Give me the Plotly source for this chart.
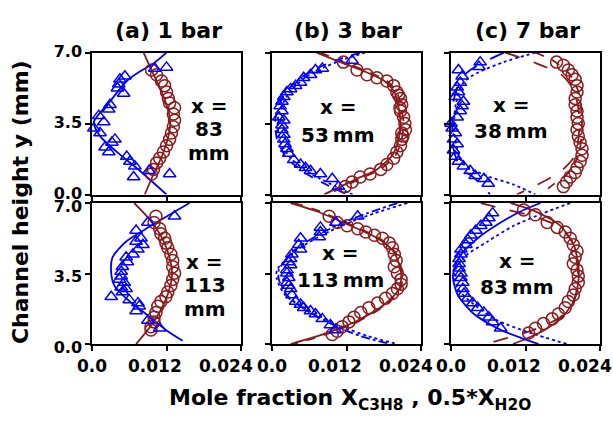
import plotly.graph_objects as go

# ---------------------------------------------------------------------------
# Measured profiles: C3H8 mole fraction (triangles) and 0.5*H2O (circles)
# versus channel height y (mm), plus model profiles, for each panel.
# Panel keys: a/b/c = 1/3/7 bar, 1 = upstream station, 2 = downstream station
# ---------------------------------------------------------------------------

# (a) 1 bar, x = 83 mm
A1_TRI_Y = [6.27, 6.22, 5.83, 5.68, 5.44, 5.24, 4.98, 4.43, 4.20, 3.89, 3.58, 3.27, 3.03, 2.72,
            2.57, 2.33, 2.10, 1.87, 1.63, 1.40, 0.86, 1.17, 1.01]
A1_TRI_X = [0.0120, 0.0101, 0.0053, 0.0045, 0.0043, 0.0041, 0.0051, 0.0029, 0.0027, 0.0011, 0.0019,
            0.0003, 0.0013, 0.0037, 0.0032, 0.0021, 0.0027, 0.0056, 0.0061, 0.0069, 0.0067, 0.0092, 0.0125]
A1_CIR_Y = [6.14, 5.91, 5.60, 5.37, 5.06, 4.74, 4.51, 4.28, 3.97, 3.66, 3.34, 3.03, 2.72, 2.41,
            2.10, 1.79, 1.56, 1.24, 1.01]
A1_CIR_X = [0.0096, 0.0104, 0.0112, 0.0117, 0.0120, 0.0123, 0.0125, 0.0133, 0.0131, 0.0133, 0.0131,
            0.0128, 0.0125, 0.0120, 0.0115, 0.0109, 0.0104, 0.0099, 0.0096]
A1_RED_Y = [7.0, 6.0, 5.0, 4.0, 3.5, 3.0, 2.0, 1.0, 0.0]
A1_RED_X = [0.0083, 0.0098, 0.0113, 0.0124, 0.0126, 0.0124, 0.0114, 0.0099, 0.0085]
A1_BLU_Y = [7.0, 6.46, 6.07, 5.60, 4.59, 3.58, 2.88, 2.10, 1.17, 0.0]
A1_BLU_X = [0.0120, 0.0099, 0.0077, 0.0056, 0.0029, 0.0003, 0.0013, 0.0040, 0.0077, 0.0120]

# (a) 1 bar, x = 113 mm
A2_TRI_Y = [6.34, 6.03, 5.64, 5.25, 5.09, 4.93, 4.70, 4.46, 4.31, 4.07, 3.84, 3.60, 3.37, 3.21,
            3.05, 2.82, 2.74, 2.58, 2.35, 2.19, 2.04, 1.88, 1.64, 1.17, 0.78]
A2_TRI_X = [0.0133, 0.0090, 0.0071, 0.0079, 0.0071, 0.0082, 0.0074, 0.0066, 0.0055, 0.0057, 0.0049,
            0.0047, 0.0047, 0.0044, 0.0052, 0.0047, 0.0055, 0.0049, 0.0031, 0.0060, 0.0074, 0.0076,
            0.0071, 0.0090, 0.0109]
A2_CIR_Y = [6.34, 6.03, 5.72, 5.48, 5.25, 5.01, 4.78, 4.46, 4.15, 3.84, 3.52, 3.21, 2.90, 2.58,
            2.35, 2.11, 1.88, 1.57, 1.33, 1.10, 0.86, 0.70]
A2_CIR_X = [0.0103, 0.0100, 0.0109, 0.0111, 0.0117, 0.0119, 0.0122, 0.0127, 0.0130, 0.0130, 0.0133,
            0.0130, 0.0127, 0.0122, 0.0119, 0.0111, 0.0106, 0.0103, 0.0100, 0.0100, 0.0095, 0.0095]
A2_RED_Y = [7.0, 6.0, 5.0, 4.0, 3.5, 3.0, 2.0, 1.0, 0.0]
A2_RED_X = [0.0068, 0.0098, 0.0117, 0.0127, 0.0129, 0.0127, 0.0116, 0.0097, 0.0071]
A2_BLU_Y = [7.0, 5.72, 5.09, 4.30, 3.50, 2.90, 2.27, 1.49, 0.70, 0.16]
A2_BLU_X = [0.0157, 0.0087, 0.0055, 0.0033, 0.0031, 0.0036, 0.0055, 0.0087, 0.0119, 0.0146]

# (b) 3 bar, x = 53 mm
B1_TRI_Y = [6.61, 6.22, 6.14, 5.91, 5.76, 5.52, 5.37, 5.21, 5.06, 4.82, 4.59, 4.36, 4.12, 3.81,
            3.66, 3.42, 3.19, 2.96, 2.72, 2.49, 2.26, 2.02, 1.71, 1.48, 1.32, 1.17, 1.01, 0.78, 0.39]
B1_TRI_X = [0.0129, 0.0081, 0.0070, 0.0062, 0.0051, 0.0046, 0.0038, 0.0030, 0.0024, 0.0019, 0.0016,
            0.0013, 0.0016, 0.0011, 0.0019, 0.0016, 0.0016, 0.0019, 0.0019, 0.0021, 0.0024, 0.0027,
            0.0035, 0.0046, 0.0054, 0.0062, 0.0078, 0.0097, 0.0107]
B1_CIR_Y = [6.53, 6.14, 5.91, 5.76, 5.60, 5.37, 5.06, 4.90, 4.74, 4.43, 4.28, 4.12, 3.81, 3.50,
            3.19, 3.03, 2.88, 2.72, 2.41, 2.10, 1.79, 1.48, 1.24, 1.01, 0.86, 0.62, 0.39]
B1_CIR_X = [0.0115, 0.0137, 0.0153, 0.0169, 0.0185, 0.0196, 0.0201, 0.0204, 0.0207, 0.0209, 0.0206,
            0.0207, 0.0212, 0.0214, 0.0215, 0.0209, 0.0211, 0.0209, 0.0207, 0.0201, 0.0196, 0.0185,
            0.0175, 0.0158, 0.0142, 0.0129, 0.0118]
B1_RED_Y = [7.0, 6.53, 6.07, 5.60, 5.06, 4.12, 3.50, 2.72, 1.94, 1.24, 0.78, 0.23, 0.0]
B1_REDDASH_X = [0.0078, 0.0115, 0.0153, 0.0185, 0.0201, 0.0209, 0.0212, 0.0209, 0.0199, 0.0174,
                0.0142, 0.0105, 0.0089]
B1_REDSOLID_X = [0.0072, 0.0110, 0.0149, 0.0181, 0.0197, 0.0205, 0.0207, 0.0204, 0.0194, 0.0169,
                 0.0137, 0.0099, 0.0084]
B1_BLU_Y = [7.0, 6.69, 6.30, 5.76, 4.90, 3.97, 3.50, 2.72, 1.79, 1.01, 0.39, 0.0]
B1_BLUDASH_X = [0.0142, 0.0110, 0.0078, 0.0046, 0.0019, 0.0007, 0.0005, 0.0008, 0.0024, 0.0056,
                0.0094, 0.0121]
B1_BLUDOT_X = [0.0150, 0.0118, 0.0086, 0.0053, 0.0025, 0.0011, 0.0009, 0.0012, 0.0030, 0.0064,
               0.0103, 0.0130]

# (b) 3 bar, x = 113 mm
B2_TRI_Y = [6.34, 6.03, 5.79, 5.56, 5.32, 5.25, 4.93, 4.70, 4.46, 4.23, 4.07, 3.92, 3.68, 3.52,
            3.29, 3.05, 2.90, 2.74, 2.43, 2.11, 1.96, 1.80, 1.64, 1.49, 1.25, 0.94, 0.70]
B2_TRI_X = [0.0138, 0.0103, 0.0078, 0.0078, 0.0076, 0.0046, 0.0043, 0.0046, 0.0032, 0.0030, 0.0027,
            0.0030, 0.0024, 0.0024, 0.0027, 0.0024, 0.0027, 0.0030, 0.0032, 0.0038, 0.0046, 0.0051,
            0.0062, 0.0070, 0.0081, 0.0094, 0.0102]
B2_CIR_Y = [6.34, 6.03, 5.87, 5.72, 5.56, 5.40, 5.25, 5.01, 4.78, 4.46, 4.15, 3.84, 3.52, 3.21,
            2.97, 2.74, 2.51, 2.27, 2.04, 1.80, 1.57, 1.33, 1.10, 0.86, 0.63, 0.47]
B2_CIR_X = [0.0092, 0.0105, 0.0121, 0.0138, 0.0151, 0.0165, 0.0178, 0.0189, 0.0194, 0.0197, 0.0200,
            0.0197, 0.0202, 0.0208, 0.0208, 0.0202, 0.0194, 0.0183, 0.0170, 0.0156, 0.0143, 0.0132,
            0.0124, 0.0113, 0.0105, 0.0097]
B2_RED_Y = [7.0, 6.58, 5.95, 5.25, 4.54, 3.52, 2.74, 1.96, 1.17, 0.55, 0.0]
B2_REDSOLID_X = [0.0030, 0.0073, 0.0121, 0.0170, 0.0197, 0.0208, 0.0205, 0.0181, 0.0138, 0.0089, 0.0030]
B2_REDDASH_X = [0.0036, 0.0078, 0.0125, 0.0173, 0.0199, 0.0210, 0.0207, 0.0184, 0.0142, 0.0094, 0.0036]
B2_BLU_Y = [7.0, 6.50, 6.11, 5.40, 4.62, 3.68, 3.21, 2.43, 1.64, 0.86, 0.39, 0.0]
B2_BLUDASHDOT_X = [0.0202, 0.0154, 0.0121, 0.0073, 0.0035, 0.0011, 0.0011, 0.0024, 0.0057, 0.0105,
                   0.0143, 0.0191]
B2_BLUDOT_X = [0.0218, 0.0166, 0.0131, 0.0080, 0.0038, 0.0008, 0.0008, 0.0021, 0.0060, 0.0113,
               0.0155, 0.0202]

# (c) 7 bar, x = 38 mm
C1_TRI_Y = [6.53, 6.30, 6.14, 5.83, 5.52, 5.29, 5.06, 4.82, 4.59, 4.36, 4.12, 3.81, 3.50, 3.27,
            3.03, 2.72, 2.49, 2.18, 1.87, 1.63, 1.40, 1.17, 0.93, 0.78, 0.54]
C1_TRI_X = [0.0047, 0.0045, 0.0012, 0.0018, 0.0015, 0.0010, 0.0012, 0.0007, 0.0020, 0.0018, 0.0015,
            0.0010, 0.0000, 0.0002, 0.0007, 0.0004, 0.0010, 0.0004, 0.0007, 0.0012, 0.0020, 0.0031,
            0.0039, 0.0053, 0.0060]
C1_CIR_Y = [6.53, 6.38, 6.14, 5.91, 5.68, 5.37, 5.06, 4.74, 4.43, 4.12, 3.81, 3.50, 3.19, 2.88,
            2.57, 2.26, 1.94, 1.63, 1.32, 1.09, 0.86, 0.62, 0.39]
C1_CIR_X = [0.0170, 0.0181, 0.0189, 0.0195, 0.0200, 0.0203, 0.0203, 0.0200, 0.0200, 0.0203, 0.0203,
            0.0205, 0.0203, 0.0205, 0.0208, 0.0211, 0.0211, 0.0208, 0.0203, 0.0200, 0.0192, 0.0186,
            0.0181]
C1_REDLONG_Y = [7.0, 6.5, 5.9, 5.2, 4.3, 3.5, 2.7, 1.8, 1.1, 0.5, 0.0]
C1_REDLONG_X = [0.0087, 0.0135, 0.0178, 0.0197, 0.0205, 0.0207, 0.0205, 0.0197, 0.0175, 0.0140, 0.0106]
C1_REDDASH_Y = [7.0, 6.6, 5.9, 5.0, 3.5, 2.0, 1.1, 0.5, 0.0]
C1_REDDASH_X = [0.0136, 0.0165, 0.0192, 0.0206, 0.0211, 0.0206, 0.0190, 0.0165, 0.0144]
C1_BLUDASH_Y = [7.0, 6.61, 6.14, 5.68, 4.59, 3.50, 2.26, 1.32, 0.86, 0.0]
C1_BLUDASH_X = [0.0085, 0.0058, 0.0031, 0.0015, 0.0004, 0.0002, 0.0004, 0.0015, 0.0036, 0.0063]
C1_BLUDOT_Y = [7.0, 6.53, 5.99, 5.52, 4.5, 3.5, 2.5, 1.5, 0.86, 0.5, 0.0]
C1_BLUDOT_X = [0.0136, 0.0085, 0.0042, 0.0020, 0.0008, 0.0005, 0.0008, 0.0020, 0.0063, 0.0100, 0.0136]

# (c) 7 bar, x = 83 mm
C2_TRI_Y = [6.50, 6.26, 6.03, 5.87, 5.64, 5.40, 5.17, 4.93, 4.70, 4.46, 4.23, 3.99, 3.76, 3.52,
            3.29, 3.05, 2.74, 2.51, 2.27, 2.04, 1.80, 1.57, 1.33, 1.10, 0.78]
C2_TRI_X = [0.0067, 0.0061, 0.0056, 0.0048, 0.0040, 0.0032, 0.0027, 0.0024, 0.0016, 0.0016, 0.0013,
            0.0013, 0.0013, 0.0016, 0.0016, 0.0019, 0.0019, 0.0021, 0.0027, 0.0035, 0.0043, 0.0053,
            0.0061, 0.0067, 0.0080]
C2_CIR_Y = [6.66, 6.42, 6.03, 5.79, 5.56, 5.25, 4.93, 4.62, 4.31, 3.99, 3.68, 3.37, 3.05, 2.74,
            2.43, 2.11, 1.80, 1.49, 1.25, 1.02, 0.78, 0.55]
C2_CIR_X = [0.0117, 0.0136, 0.0155, 0.0171, 0.0184, 0.0192, 0.0197, 0.0203, 0.0200, 0.0197, 0.0203,
            0.0205, 0.0205, 0.0200, 0.0197, 0.0189, 0.0184, 0.0173, 0.0163, 0.0149, 0.0136, 0.0125]
C2_REDLONG_Y = [7.0, 6.66, 6.34, 5.87, 5.09, 3.99, 3.05, 2.11, 1.33, 0.70, 0.31, 0.0]
C2_REDLONG_X = [0.0048, 0.0091, 0.0133, 0.0171, 0.0195, 0.0203, 0.0205, 0.0197, 0.0176, 0.0133,
                0.0091, 0.0056]
C2_REDSOLID_Y = [7.0, 6.6, 5.9, 4.9, 3.5, 2.2, 1.3, 0.6, 0.0]
C2_REDSOLID_X = [0.0096, 0.0135, 0.0175, 0.0198, 0.0206, 0.0199, 0.0178, 0.0145, 0.0100]
C2_BLUSOLID_Y = [7.0, 6.58, 6.03, 5.25, 4.31, 3.37, 2.43, 1.49, 0.70, 0.31, 0.0]
C2_BLUSOLID_X = [0.0144, 0.0112, 0.0080, 0.0043, 0.0013, 0.0003, 0.0011, 0.0037, 0.0080, 0.0112, 0.0141]
C2_BLUDOT_Y = [7.0, 6.50, 5.87, 5.09, 4.31, 3.52, 2.74, 1.96, 1.17, 0.55, 0.0]
C2_BLUDOT_X = [0.0192, 0.0149, 0.0101, 0.0059, 0.0021, 0.0005, 0.0011, 0.0037, 0.0075, 0.0128, 0.0187]

# Axis ticks
X_TICKS = [0.0, 0.012, 0.024]
X_TICK_TEXT = ["0.0", "0.012", "0.024"]
X_TICK_NUDGE = [0, -12, -15]          # horizontal label offsets in px
Y_TICKS = [0.0, 3.5, 7.0]
Y_TICK_TEXT = ["0.0", "3.5", "7.0"]
Y_LABEL_SHIFT = {1: -1, 2: 3}         # per-row vertical tick-label shift in px

COLUMN_TITLES = ["(a) 1 bar", "(b) 3 bar", "(c) 7 bar"]

BLUE = "#0000ff"
RED = "#8b1a1a"
FONT = "DejaVu Sans"
W, H = 613, 428

# panel -> (row, col, triangles, circles, model lines [(x, y, colour, dash)])
PANELS = [
    (1, 1, (A1_TRI_X, A1_TRI_Y), (A1_CIR_X, A1_CIR_Y),
     [(A1_RED_X, A1_RED_Y, RED, "solid"), (A1_BLU_X, A1_BLU_Y, BLUE, "solid")]),
    (2, 1, (A2_TRI_X, A2_TRI_Y), (A2_CIR_X, A2_CIR_Y),
     [(A2_RED_X, A2_RED_Y, RED, "solid"), (A2_BLU_X, A2_BLU_Y, BLUE, "solid")]),
    (1, 2, (B1_TRI_X, B1_TRI_Y), (B1_CIR_X, B1_CIR_Y),
     [(B1_REDSOLID_X, B1_RED_Y, RED, "solid"), (B1_REDDASH_X, B1_RED_Y, RED, "dash"),
      (B1_BLUDASH_X, B1_BLU_Y, BLUE, "dash"), (B1_BLUDOT_X, B1_BLU_Y, BLUE, "dot")]),
    (2, 2, (B2_TRI_X, B2_TRI_Y), (B2_CIR_X, B2_CIR_Y),
     [(B2_REDSOLID_X, B2_RED_Y, RED, "solid"), (B2_REDDASH_X, B2_RED_Y, RED, "dash"),
      (B2_BLUDASHDOT_X, B2_BLU_Y, BLUE, "dashdot"), (B2_BLUDOT_X, B2_BLU_Y, BLUE, "dot")]),
    (1, 3, (C1_TRI_X, C1_TRI_Y), (C1_CIR_X, C1_CIR_Y),
     [(C1_REDLONG_X, C1_REDLONG_Y, RED, "longdash"), (C1_REDDASH_X, C1_REDDASH_Y, RED, "dash"),
      (C1_BLUDASH_X, C1_BLUDASH_Y, BLUE, "longdash"), (C1_BLUDOT_X, C1_BLUDOT_Y, BLUE, "dot")]),
    (2, 3, (C2_TRI_X, C2_TRI_Y), (C2_CIR_X, C2_CIR_Y),
     [(C2_REDLONG_X, C2_REDLONG_Y, RED, "longdash"), (C2_REDSOLID_X, C2_REDSOLID_Y, RED, "solid"),
      (C2_BLUSOLID_X, C2_BLUSOLID_Y, BLUE, "solid"), (C2_BLUDOT_X, C2_BLUDOT_Y, BLUE, "dot")]),
]

# station labels: (lines, pixel centre x, first line pixel y, line step)
STATIONS = [
    (["x =", "83", "mm"], 209, 101, 25),
    (["x =", "113", "mm"], 205, 266, 25),
    (["x =", "53\u2009mm"], 338, 102, 30),
    (["x =", "113\u2009mm"], 340, 257, 28),
    (["x =", "38\u2009mm"], 511, 100, 28),
    (["x =", "83\u2009mm"], 517, 265, 28),
]

# panel frames in pixels
COL_PX = [(92, 241), (272, 421), (451, 600)]
ROW_PX = [(45, 195), (204, 353)]


def px_x(p):
    return p / W


def px_y(p):
    return 1 - p / H


fig = go.Figure()
layout = {}
annotations = []

for row, col, tri, cir, lines in PANELS:
    idx = (row - 1) * 3 + col
    xa = "x" if idx == 1 else f"x{idx}"
    ya = "y" if idx == 1 else f"y{idx}"
    for lx, ly, colour, dash in lines:
        fig.add_trace(go.Scatter(x=lx, y=ly, mode="lines", xaxis=xa, yaxis=ya,
                                 line=dict(color=colour, width=1.8, dash=dash, shape="spline",
                                           smoothing=0.7),
                                 showlegend=False, hoverinfo="skip"))
    fig.add_trace(go.Scatter(x=cir[0], y=cir[1], mode="markers", xaxis=xa, yaxis=ya,
                             marker=dict(symbol="circle-open", size=12, color=RED,
                                         line=dict(width=1.5, color=RED)),
                             cliponaxis=False, showlegend=False))
    fig.add_trace(go.Scatter(x=tri[0], y=tri[1], mode="markers", xaxis=xa, yaxis=ya,
                             marker=dict(symbol="triangle-up-open", size=11, color=BLUE,
                                         line=dict(width=1.5, color=BLUE)),
                             cliponaxis=False, showlegend=False))

    x0, x1 = COL_PX[col - 1]
    y0, y1 = ROW_PX[row - 1]
    axis_common = dict(showline=True, mirror=True, linecolor="black", linewidth=1.5,
                       ticks="outside", ticklen=5, tickwidth=1.5, tickcolor="black",
                       showgrid=False, zeroline=False, fixedrange=True,
                       tickfont=dict(family=FONT, size=16, color="black", weight="bold"))
    layout["xaxis" if idx == 1 else f"xaxis{idx}"] = dict(
        axis_common, domain=[px_x(x0), px_x(x1)], range=[0, 0.024],
        tickvals=X_TICKS, showticklabels=False, anchor=ya)
    layout["yaxis" if idx == 1 else f"yaxis{idx}"] = dict(
        axis_common, domain=[px_y(y1), px_y(y0)], range=[0, 7],
        tickvals=Y_TICKS, ticktext=Y_TICK_TEXT, showticklabels=(col == 1),
        ticklabelshift=Y_LABEL_SHIFT[row], anchor=xa)

    # x tick labels under the bottom row, placed at their tick values
    if row == 2:
        for v, txt, nudge in zip(X_TICKS, X_TICK_TEXT, X_TICK_NUDGE):
            annotations.append(dict(text=txt, x=v, xref=xa, y=px_y(376), yref="paper",
                                    xshift=nudge, showarrow=False, xanchor="center",
                                    yanchor="middle",
                                    font=dict(family=FONT, size=17, color="black",
                                              weight="bold")))

for i, title in enumerate(COLUMN_TITLES):
    cx = (COL_PX[i][0] + COL_PX[i][1]) / 2
    annotations.append(dict(text=title, x=px_x(cx + 2), y=px_y(22), xref="paper", yref="paper",
                            showarrow=False, xanchor="center", yanchor="middle",
                            font=dict(family=FONT, size=22, color="black", weight="bold")))

for lines, cx, cy, step in STATIONS:
    for k, txt in enumerate(lines):
        annotations.append(dict(text=txt, x=px_x(cx), y=px_y(cy + k * step), xref="paper",
                                yref="paper", showarrow=False, xanchor="center",
                                yanchor="middle",
                                font=dict(family=FONT, size=20, color="black", weight="bold")))

annotations.append(dict(text="Channel height y (mm)", x=px_x(20), y=px_y(203), xref="paper",
                        yref="paper", showarrow=False, textangle=-90, xanchor="center",
                        yanchor="middle",
                        font=dict(family=FONT, size=22, color="black", weight="bold")))
annotations.append(dict(text="Mole fraction X<sub>C3H8</sub> , 0.5*X<sub>H2O</sub>",
                        x=px_x(350), y=px_y(412), xref="paper", yref="paper", showarrow=False,
                        xanchor="center", yanchor="middle",
                        font=dict(family=FONT, size=22, color="black", weight="bold")))

fig.update_layout(**layout)
fig.update_layout(width=W, height=H, margin=dict(l=0, r=0, t=0, b=0),
                  paper_bgcolor="white", plot_bgcolor="white",
                  annotations=annotations, showlegend=False)

fig.write_html("out.html")
